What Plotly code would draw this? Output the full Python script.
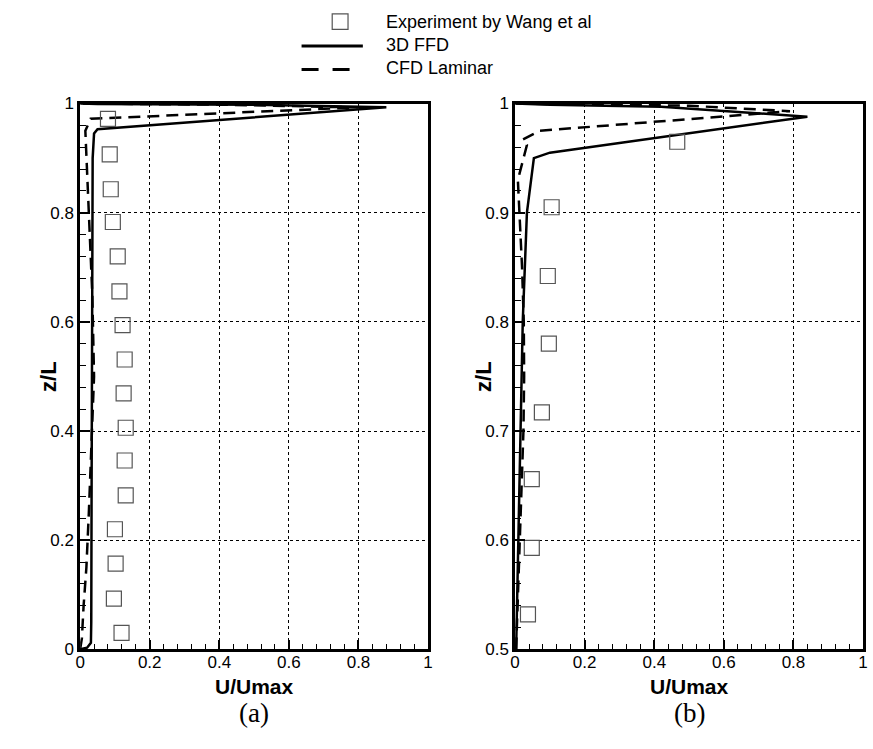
import plotly.graph_objects as go

W, H = 873, 749

# ---------------- data ----------------
# (a) full height
exp_a_u = [0.080, 0.085, 0.088, 0.094, 0.108, 0.113, 0.122, 0.128, 0.125, 0.131, 0.128, 0.131, 0.100, 0.102, 0.097, 0.119]
exp_a_z = [0.972, 0.907, 0.843, 0.783, 0.720, 0.656, 0.594, 0.531, 0.469, 0.406, 0.346, 0.282, 0.220, 0.157, 0.093, 0.030]

ffd_a_u = [0.0, 0.02, 0.031, 0.032, 0.033, 0.035, 0.035, 0.036, 0.040, 0.050, 0.880, 0.50, 0.05, 0.0]
ffd_a_z = [0.0, 0.003, 0.012, 0.05, 0.30, 0.60, 0.80, 0.90, 0.945, 0.953, 0.993, 0.998, 0.999, 1.0]

cfd_a_u = [0.0, 0.005, 0.010, 0.018, 0.025, 0.035, 0.040, 0.035, 0.025, 0.020, 0.015, 0.030, 0.800, 0.40, 0.0]
cfd_a_z = [0.0, 0.02, 0.08, 0.15, 0.25, 0.40, 0.50, 0.65, 0.80, 0.90, 0.95, 0.972, 0.993, 0.998, 1.0]

# (b) upper half
exp_b_u = [0.466, 0.105, 0.094, 0.097, 0.077, 0.048, 0.048, 0.037]
exp_b_z = [0.965, 0.905, 0.842, 0.780, 0.717, 0.656, 0.593, 0.532]

ffd_b_u = [0.003, 0.006, 0.010, 0.013, 0.016, 0.019, 0.022, 0.028, 0.034, 0.054, 0.100, 0.840, 0.42, 0.10, 0.0]
ffd_b_z = [0.50, 0.55, 0.60, 0.65, 0.70, 0.75, 0.80, 0.85, 0.90, 0.95, 0.955, 0.988, 0.997, 0.999, 1.0]

cfd_b_u = [0.003, 0.008, 0.014, 0.020, 0.024, 0.026, 0.025, 0.020, 0.012, 0.008, 0.034, 0.022, 0.070, 0.790, 0.50, 0.0]
cfd_b_z = [0.50, 0.55, 0.60, 0.65, 0.70, 0.75, 0.80, 0.85, 0.90, 0.93, 0.962, 0.967, 0.975, 0.993, 0.998, 1.0]

x_ticks = [0, 0.2, 0.4, 0.6, 0.8, 1]
x_ticklabels = ["0", "0.2", "0.4", "0.6", "0.8", "1"]
ya_ticks = [0, 0.2, 0.4, 0.6, 0.8, 1]
ya_ticklabels = ["0", "0.2", "0.4", "0.6", "0.8", "1"]
yb_ticks = [0.5, 0.6, 0.7, 0.8, 0.9, 1]
yb_ticklabels = ["0.5", "0.6", "0.7", "0.8", "0.9", "1"]

legend_labels = ["Experiment by Wang et al", "3D FFD", "CFD Laminar"]
panel_labels = ["(a)", "(b)"]
x_title = "U/Umax"
y_title = "z/L"

# ---------------- layout helpers ----------------
def px(x):
    return x / W

def py(y):
    return 1 - y / H

LEFT_A, RIGHT_A = 76, 428
LEFT_B, RIGHT_B = 516, 868
TOP, BOTTOM = 97, 657

TICKFONT = dict(family="Liberation Sans Narrow, Liberation Sans, Arial", size=17, color="black")
MARK_COLOR = "#555555"
DASH = "12px,7px"

fig = go.Figure()

def add_panel(eu, ez, fu, fz, cu, cz, xa, ya):
    fig.add_trace(go.Scatter(x=fu, y=fz, mode="lines", line=dict(color="black", width=2.5),
                             xaxis=xa, yaxis=ya, showlegend=False))
    fig.add_trace(go.Scatter(x=cu, y=cz, mode="lines", line=dict(color="black", width=2.5, dash=DASH),
                             xaxis=xa, yaxis=ya, showlegend=False))
    fig.add_trace(go.Scatter(x=eu, y=ez, mode="markers",
                             marker=dict(symbol="square-open", size=15, color=MARK_COLOR, line=dict(width=1.2)),
                             xaxis=xa, yaxis=ya, showlegend=False))

add_panel(exp_a_u, exp_a_z, ffd_a_u, ffd_a_z, cfd_a_u, cfd_a_z, "x", "y")
add_panel(exp_b_u, exp_b_z, ffd_b_u, ffd_b_z, cfd_b_u, cfd_b_z, "x2", "y2")

def axis_style(rng, ticks, labels, minor_dtick, domain, anchor, standoff=0):
    return dict(
        range=rng, domain=domain, anchor=anchor,
        tickmode="array", tickvals=ticks, ticktext=labels,
        ticks="inside", ticklen=10, tickwidth=2, tickcolor="black",
        minor=dict(dtick=minor_dtick, ticks="inside", ticklen=6, tickwidth=1, tickcolor="black", showgrid=False),
        showgrid=True, gridcolor="black", gridwidth=1, griddash="3px,3px",
        showline=True, linecolor="black", linewidth=2.5, mirror=True,
        zeroline=False, tickfont=TICKFONT, fixedrange=True,
        ticklabeloverflow="allow", ticklabelstandoff=standoff,
    )

dom_y = [py(BOTTOM), py(TOP)]
fig.update_layout(
    width=W, height=H,
    margin=dict(l=0, r=0, t=0, b=0),
    paper_bgcolor="white", plot_bgcolor="white",
    showlegend=False,
    xaxis=axis_style([0, 1], x_ticks, x_ticklabels, 0.04, [px(LEFT_A), px(RIGHT_A)], "y", -4),
    yaxis=axis_style([0, 1], ya_ticks, ya_ticklabels, 0.04, dom_y, "x"),
    xaxis2=axis_style([0, 1], x_ticks, x_ticklabels, 0.04, [px(LEFT_B), px(RIGHT_B)], "y2", -4),
    yaxis2=axis_style([0.5, 1], yb_ticks, yb_ticklabels, 0.02, dom_y, "x2"),
)

ann = []
TITLEFONT = dict(family="Liberation Sans Narrow, Liberation Sans, Arial", size=21, color="black")
for cx in [(LEFT_A + RIGHT_A) / 2, (LEFT_B + RIGHT_B) / 2]:
    ann.append(dict(x=px(cx), y=py(695), xref="paper", yref="paper", text="<b>%s</b>" % x_title,
                    showarrow=False, font=TITLEFONT, xanchor="center", yanchor="middle"))
for lx in [44, 484]:
    ann.append(dict(x=px(lx), y=py((TOP + BOTTOM) / 2), xref="paper", yref="paper", text="<b>%s</b>" % y_title,
                    showarrow=False, font=dict(family=TITLEFONT["family"], size=22, color="black"),
                    textangle=-90, xanchor="center", yanchor="middle"))
for lbl, cx in zip(panel_labels, [(LEFT_A + RIGHT_A) / 2, (LEFT_B + RIGHT_B) / 2]):
    ann.append(dict(x=px(cx), y=py(722), xref="paper", yref="paper", text=lbl, showarrow=False,
                    font=dict(family="Liberation Serif, Times New Roman", size=27, color="black"),
                    xanchor="center", yanchor="middle"))
LEGFONT = dict(family="Liberation Sans, Arial", size=18, color="black")
for lbl, yy in zip(legend_labels, [13, 37, 61]):
    ann.append(dict(x=px(383), y=py(yy), xref="paper", yref="paper", text=lbl, showarrow=False,
                    font=LEGFONT, xanchor="left", yanchor="middle"))
fig.update_layout(annotations=ann)

shapes = [
    dict(type="rect", xref="paper", yref="paper", x0=px(331), x1=px(347), y0=py(21), y1=py(5),
         line=dict(color=MARK_COLOR, width=1.2), fillcolor="rgba(0,0,0,0)"),
    dict(type="line", xref="paper", yref="paper", x0=px(300), x1=px(362), y0=py(38), y1=py(38),
         line=dict(color="black", width=3)),
    dict(type="line", xref="paper", yref="paper", x0=px(300), x1=px(362), y0=py(62), y1=py(62),
         line=dict(color="black", width=3, dash="17px,14px")),
]
fig.update_layout(shapes=shapes)

fig.write_html("out.html", config={"displayModeBar": False},
               post_script="document.body.style.margin='0px';document.body.style.overflow='hidden';")
